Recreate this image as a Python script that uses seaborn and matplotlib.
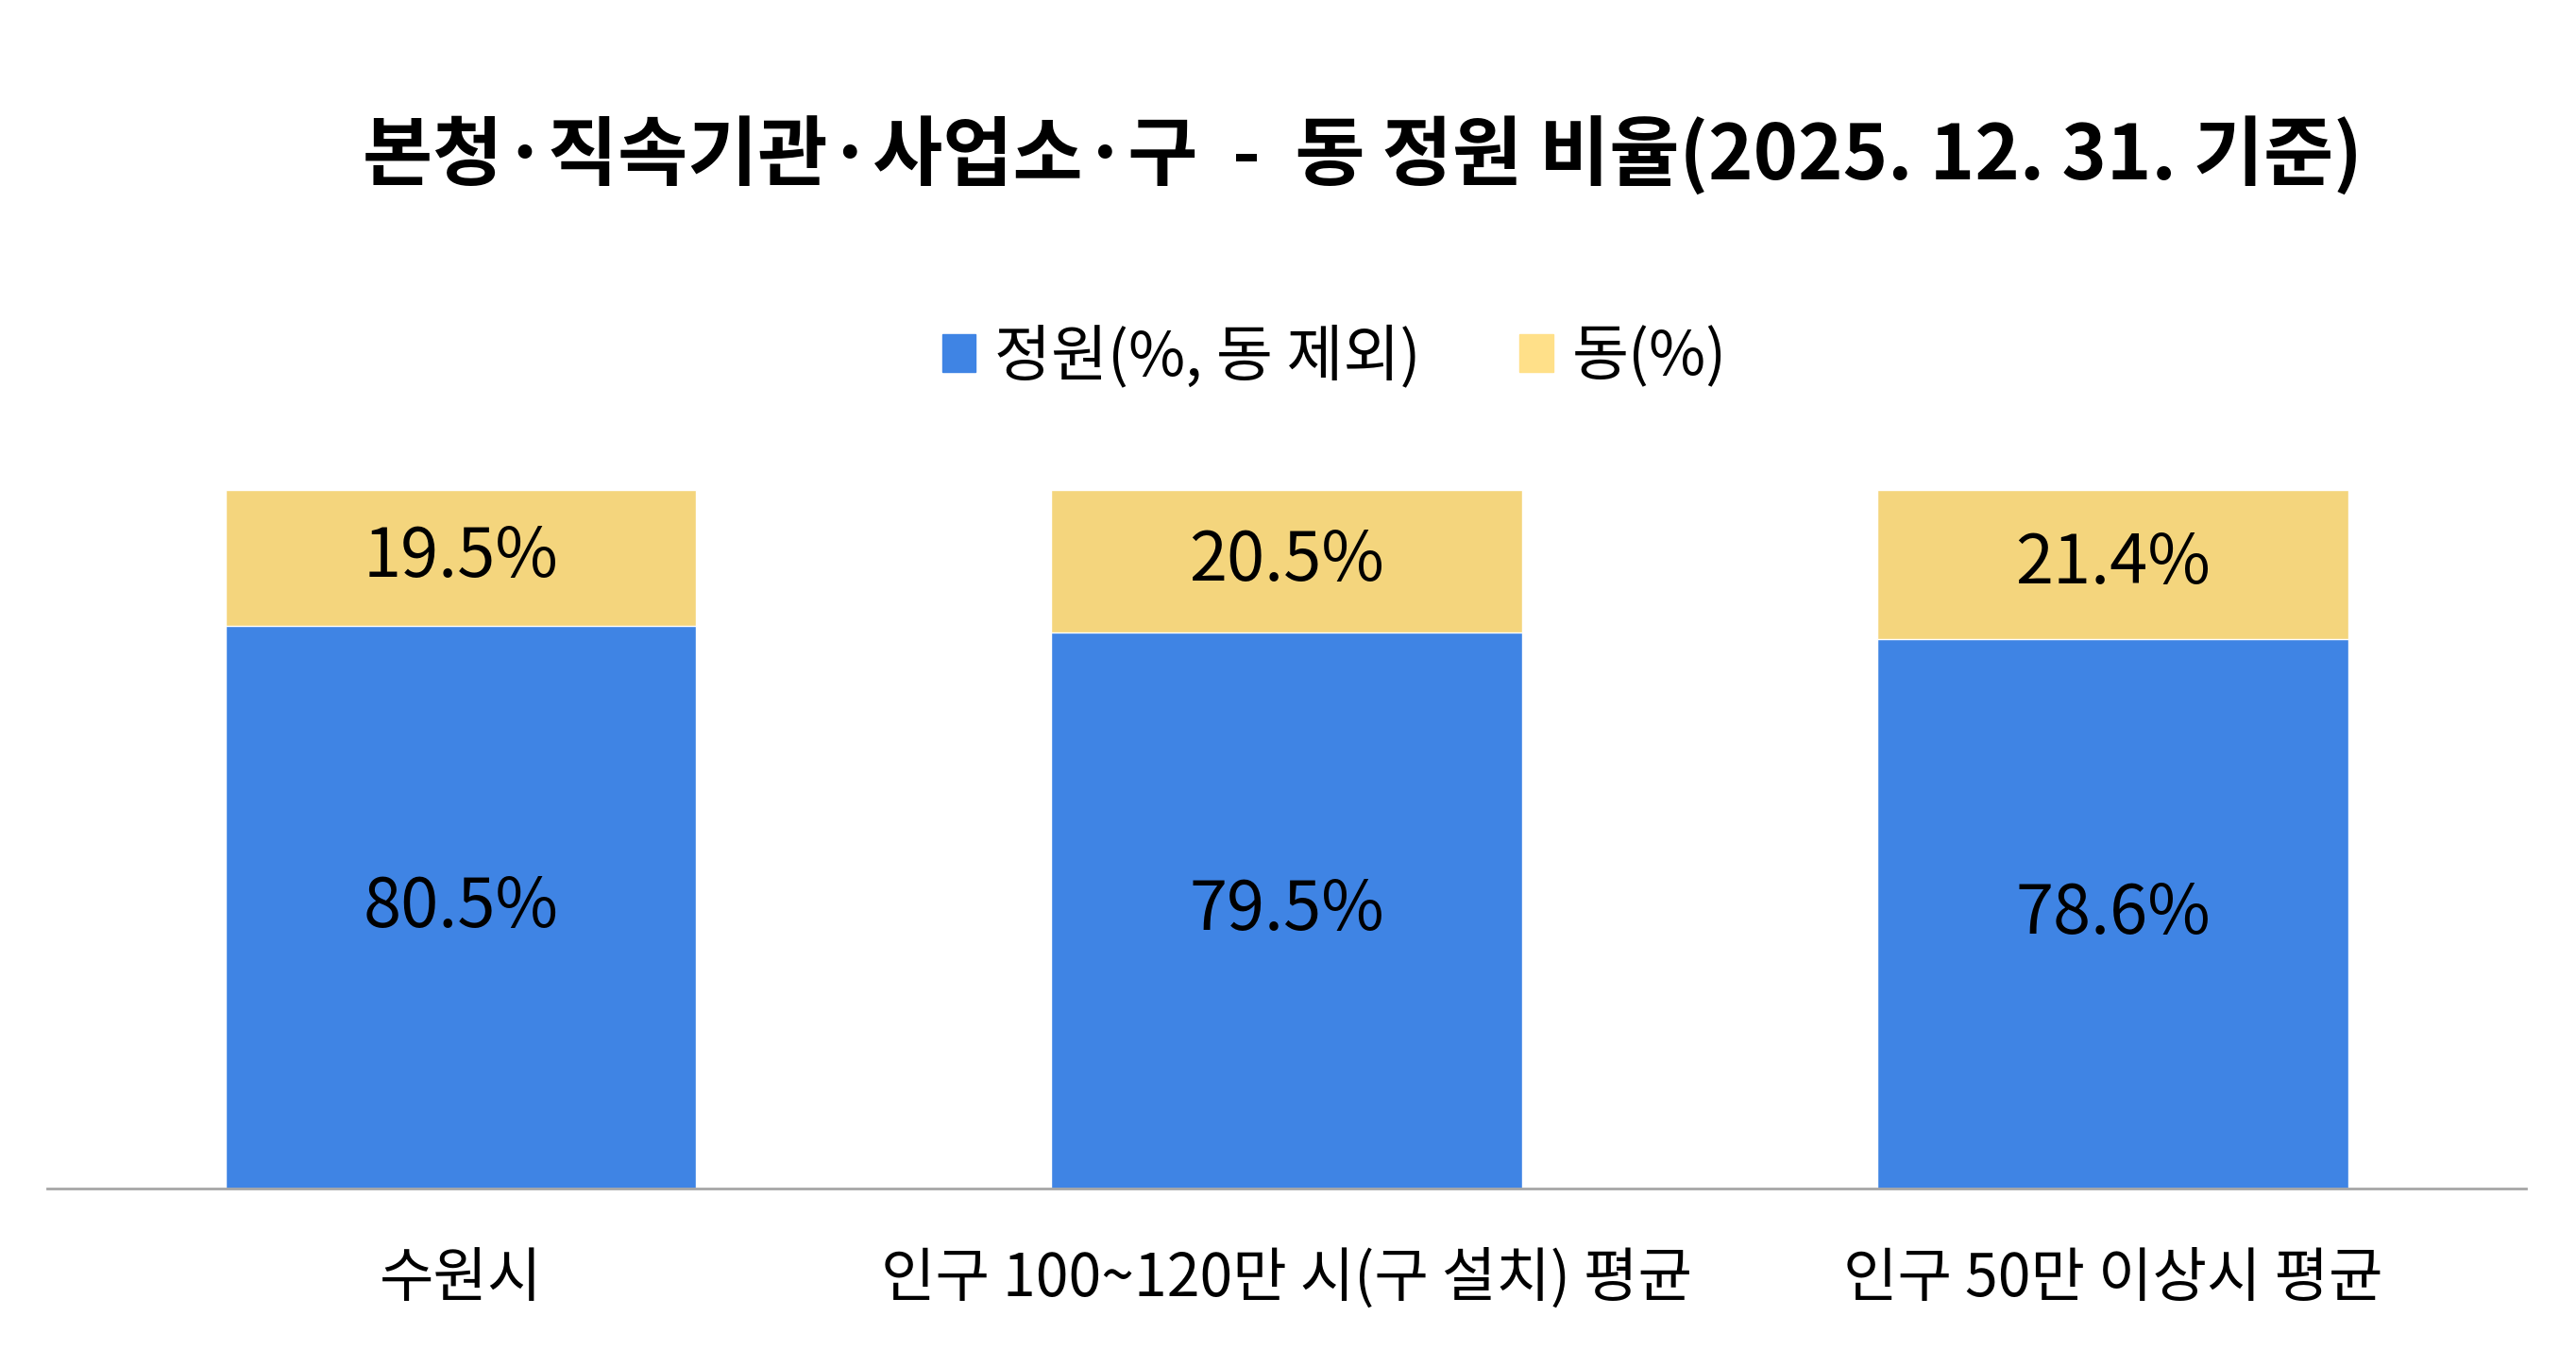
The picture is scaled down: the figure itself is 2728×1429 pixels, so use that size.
import matplotlib
matplotlib.use('Agg')
import matplotlib.pyplot as plt
from matplotlib.patches import Patch
import seaborn as sns
import pandas as pd

# 데이터
categories = ['수원시', '인구 100~120만 시(구 설치) 평균', '인구 50만 이상시 평균']
staff_pct = [80.5, 79.5, 78.6]   # 정원(%, 동 제외)
dong_pct = [19.5, 20.5, 21.4]    # 동(%)

sns.set_style('white')
plt.rcParams['font.family'] = ['Noto Sans CJK KR', 'DejaVu Sans']
plt.rcParams['axes.unicode_minus'] = False
plt.rcParams['text.color'] = 'black'
plt.rcParams['xtick.color'] = 'black'

df = pd.DataFrame({'구분': categories, '정원': staff_pct, '동': dong_pct})
df['합계'] = df['정원'] + df['동']

blue = '#3F84E4'
yellow = '#F4D57D'

fig = plt.figure(figsize=(27.28, 14.29), dpi=100)
ax = fig.add_axes([0.0185, 0.119, 0.962, 0.518])

# 누적 막대: 전체(동) 위에 정원을 덮어 그림
sns.barplot(data=df, x='구분', y='합계', color=yellow, width=0.57, saturation=1, ax=ax)
sns.barplot(data=df, x='구분', y='정원', color=blue, width=0.57, saturation=1, ax=ax)

# 막대 안 숫자
for i in range(len(categories)):
    ax.text(i, staff_pct[i] / 2, f'{staff_pct[i]:.1f}%', ha='center', va='center',
            fontsize=52, color='black')
    ax.text(i, staff_pct[i] + dong_pct[i] / 2, f'{dong_pct[i]:.1f}%', ha='center', va='center',
            fontsize=52, color='black')

ax.set_xlim(-0.5, 2.5)
ax.set_ylim(0, 100)
ax.set_xlabel('')
ax.set_ylabel('')
ax.set_yticks([])
ax.tick_params(axis='x', length=0, pad=46, labelsize=45, labelcolor='black')
for s in ['top', 'left', 'right']:
    ax.spines[s].set_visible(False)
ax.spines['bottom'].set_color('#A6A6A6')
ax.spines['bottom'].set_linewidth(2)

fig.text(0.529, 0.884, '본청·직속기관·사업소·구  -  동 정원 비율(2025. 12. 31. 기준)',
         ha='center', va='center', fontsize=58, fontweight='bold', color='black')

handles = [Patch(color=blue), Patch(color='#FFE089')]
leg = fig.legend(handles, ['정원(%, 동 제외)', '동(%)'], loc='center', bbox_to_anchor=(0.518, 0.735),
                 ncol=2, frameon=False, fontsize=47, handlelength=0.55, handleheight=0.55,
                 handletextpad=0.3, columnspacing=1.6)
for t in leg.get_texts():
    t.set_color('black')

fig.savefig('out.png', dpi=100)
